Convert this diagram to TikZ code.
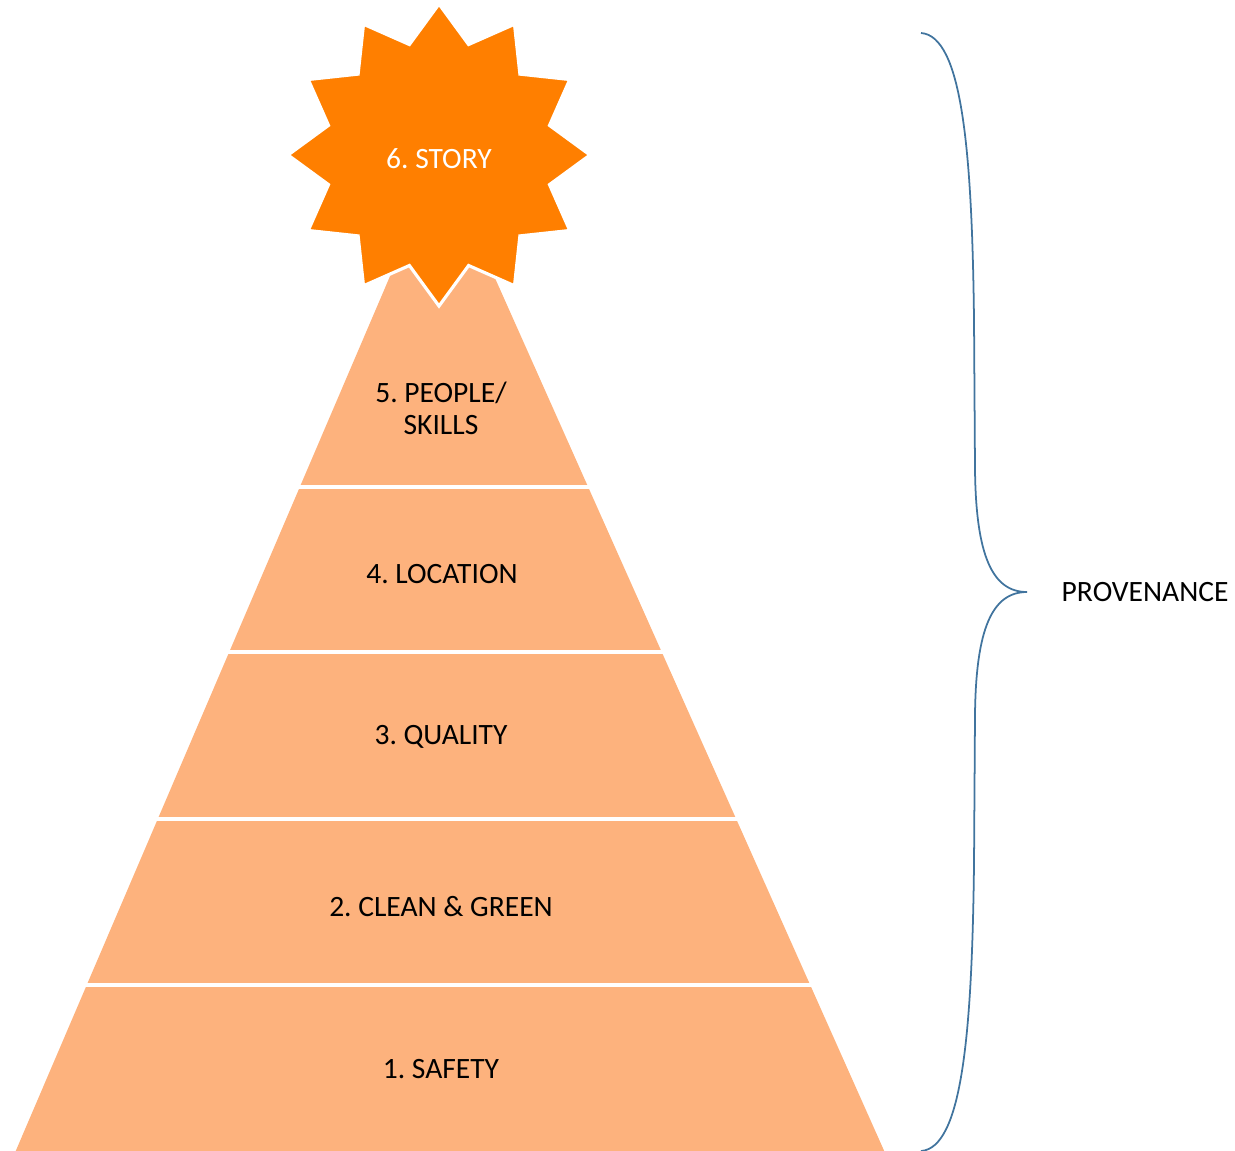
\documentclass[tikz,border=0pt]{standalone}
\usepackage{fontspec}
\setmainfont{Carlito}
\usetikzlibrary{shapes.geometric}
\frenchspacing

\definecolor{layerfill}{RGB}{253,178,125}
\definecolor{starfill}{RGB}{255,127,0}
\definecolor{bracecol}{RGB}{65,116,158}

\tikzset{
  layertext/.style={font=\fontsize{8.4}{9.1}\selectfont, text=black, align=center, inner sep=0pt},
  gapline/.style={draw=white, line width=0.9pt},
}

\begin{document}
\begin{tikzpicture}[x=0.1mm,y=-0.1mm]
	\useasboundingbox (0,0) rectangle (1235,1150);
	% pyramid
	\fill[layerfill] (441,157) -- (886,1155) -- (14,1155) -- cycle;
	% white gaps between the layers
	\foreach \y in {487,652,819,985}{
		\draw[gapline] ({16+0.428*(1150-\y)-5},\y) -- ({886-0.448*(1150-\y)+5},\y);
	}
	% star on top
	\node[star, star points=12, star point ratio=1.32, minimum size=30.2mm,
	      inner sep=0pt, fill=starfill, draw=white, line width=0.9pt] (story) at (439,155) {};
	\node[layertext, text=white] (storylbl) at (439,159) {6. STORY};
	% layer labels
	\node[layertext] (people) at (441,408) {5. PEOPLE/\\SKILLS};
	\node[layertext] (location) at (442,574) {4. LOCATION};
	\node[layertext] (quality) at (441,737) {3. QUALITY};
	\node[layertext] (clean) at (441,907) {2. CLEAN \& GREEN};
	\node[layertext] (safety) at (441,1069) {1. SAFETY};
	% brace
	\coordinate (bracetop) at (921,33);
	\coordinate (bracetip) at (1027,592);
	\coordinate (bracebot) at (921,1151);
	\draw[bracecol, line width=0.5pt] (bracetop) .. controls (962,36) and (972,150) .. (974,320)
		-- (975,470) .. controls (976,555) and (992,592) .. (bracetip)
		.. controls (992,592) and (976,629) .. (975,714)
		-- (974,864) .. controls (972,1034) and (962,1148) .. (bracebot);
	\node[layertext, anchor=west] (provenance) at (1061,592) {PROVENANCE};
\end{tikzpicture}
\end{document}
